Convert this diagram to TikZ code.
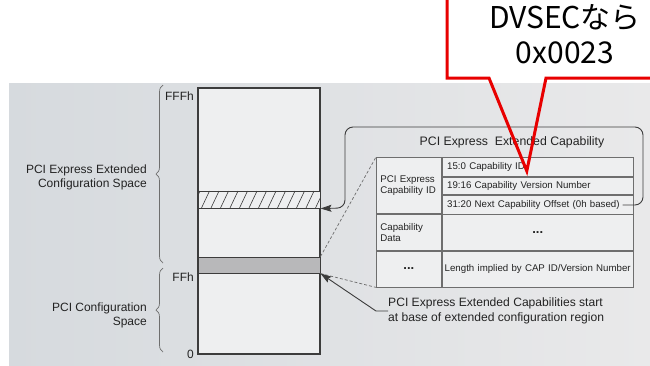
\documentclass[tikz,border=0pt]{standalone}
\usepackage{fontspec}
\setmainfont{Liberation Sans}
\newfontfamily\cjkfont{Noto Sans CJK JP}
\usepackage{tikz}
\usetikzlibrary{arrows.meta, positioning, calc, decorations.pathreplacing}
\definecolor{pcibgl}{RGB}{214,218,222}
\definecolor{pcibgr}{RGB}{233,233,234}
\definecolor{pcifill}{RGB}{238,239,240}
\definecolor{pciline}{RGB}{60,60,60}
\definecolor{pcitab}{RGB}{110,110,110}
\definecolor{pcigray}{RGB}{184,184,186}
\definecolor{pcitext}{RGB}{35,35,35}
\definecolor{pcired}{RGB}{232,0,0}

\begin{document}
\begin{tikzpicture}[
    x=1pt, y=-1pt,
    every node/.append style={text=pcitext},
    memcol/.style={rectangle, draw=pciline, fill=pcifill, line width=1.1pt, minimum width=122pt, inner sep=0pt},
    band/.style={rectangle, draw=pciline, line width=1pt, minimum width=122pt, inner sep=0pt},
    addr/.style={inner sep=0pt, font=\fontsize{12}{14}\selectfont},
    spacelbl/.style={inner sep=0pt, align=right, font=\fontsize{12}{14}\selectfont},
    cell/.style={rectangle, draw=pcitab, fill=pcifill, line width=0.8pt, anchor=north west, inner xsep=5pt, inner ysep=0pt, align=left, font=\fontsize{9.7}{11}\selectfont},
    narrow/.style={text width=57pt, inner xsep=4pt},
    wide/.style={text width=181pt},
    titlelbl/.style={inner sep=0pt, font=\fontsize{12.3}{14}\selectfont},
    notelbl/.style={inner sep=0pt, align=left, font=\fontsize{12.1}{15}\selectfont},
    brace/.style={decorate, decoration={brace, amplitude=7pt}, draw=pcitab, line width=0.7pt},
    arrow/.style={-{Stealth[length=11pt, width=7pt, inset=2pt]}, draw=pciline, line width=0.9pt},
    guide/.style={draw=pcitab, line width=0.7pt, dash pattern=on 3pt off 2pt},
    callout/.style={draw=pcired, line width=3pt},
    calloutlbl/.style={inner sep=0pt, align=center, text=black, font=\cjkfont\fontsize{30}{35}\selectfont}
]
\useasboundingbox (0,0) rectangle (650,365);
\clip (0,0) rectangle (650,365);

% Background panel
\shade[left color=pcibgl, right color=pcibgr] (9,83) rectangle (650,365);

% Configuration space column
\node[memcol, minimum height=266pt] (mem) at (259,221) {};
\node[band, fill=pcifill, minimum height=17pt] (hatch) at (259,199.5) {};
\begin{scope}
  \clip (hatch.south west) rectangle (hatch.north east);
  \foreach \x in {192,201.5,...,330}
    \draw[pciline, line width=0.6pt] (\x,208) -- ++(8,-17);
\end{scope}
\node[band, fill=pcigray, minimum height=16pt] (graybd) at (259,265) {};

% Address labels
\node[addr, anchor=base east] (fffh) at (194,100) {FFFh};
\node[addr, anchor=base east] (ffh) at (194,281) {FFh};
\node[addr, anchor=base east] (zero) at (194,358) {0};

% Braces and space names
\draw[brace] (163,263) -- (163,85);
\draw[brace] (163,352) -- (163,268);
\node[spacelbl, anchor=east] (extlbl) at (147,177) {PCI Express Extended\\Configuration Space};
\node[spacelbl, anchor=east] (cfglbl) at (147,315) {PCI Configuration\\Space};

% Extended capability table
\node[titlelbl] (captitle) at (512,142) {PCI Express~ Extended Capability};
\node[cell, narrow, minimum height=56pt] (capid) at (376,157) {PCI Express\\Capability ID};
\node[cell, wide, minimum height=19pt] (fid) at (capid.north east) {15:0 Capability ID};
\node[cell, wide, minimum height=17pt] (fver) at (fid.south west) {19:16 Capability Version Number};
\node[cell, wide, minimum height=20pt] (fnext) at (fver.south west) {31:20 Next Capability Offset (0h based)};
\node[cell, narrow, minimum height=36pt] (capdata) at (capid.south west) {Capability\\Data};
\node[cell, wide, align=center, minimum height=36pt] (datadots) at (capdata.north east) {\fontsize{13}{13}\selectfont\bfseries ...};
\node[cell, narrow, align=center, minimum height=36pt] (moredots) at (capdata.south west) {\fontsize{13}{13}\selectfont\bfseries ...};
\node[cell, text width=187pt, inner xsep=2pt, align=center, minimum height=36pt] (lenimp) at (moredots.north east) {Length implied by CAP ID/Version Number};

% Note below the table
\node[notelbl, anchor=west] (note) at (388,311) {PCI Express Extended Capabilities start\\at base of extended configuration region};

% Connectors
\draw[arrow, rounded corners=8pt] ([xshift=-11pt]fnext.east) -| (643,127) -| (345,208) -- (hatch.south east);
\draw[guide] (graybd.north east) -- (capid.north west);
\draw[guide] (graybd.south east) -- (moredots.south west);
\draw[arrow] (note.west) -- ++(-12,0) -- (graybd.south east);

% Callout
\coordinate (captip) at ($(fid.north west)+(85,14)$);
\fill[white] (447,-6) rectangle (656,78);
\draw[callout] (656,78) -- (546,78) -- (captip) -- (489,78) -- (447,78) -- (447,-6);
\node[calloutlbl] (dvsec) at (565,34) {DVSECなら\\0x0023};

\end{tikzpicture}
\end{document}
